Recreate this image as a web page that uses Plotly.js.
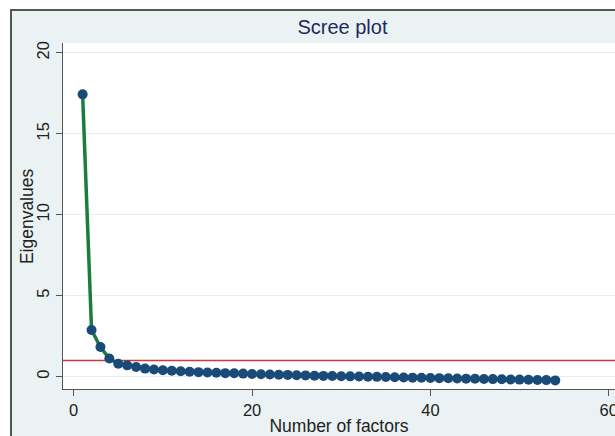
<!DOCTYPE html>
<html>
<head>
<meta charset="utf-8">
<script src="https://cdn.plot.ly/plotly-3.0.1.min.js"></script>
<style>
html,body{margin:0;padding:0;background:#ffffff;width:615px;height:436px;overflow:hidden;}
#frame{position:absolute;left:10px;top:9px;width:605px;height:427px;border-left:2px solid #555;border-top:2px solid #555;background:#eaf2f3;}
#chart{position:absolute;left:0;top:0;width:603px;height:425px;}
</style>
</head>
<body>
<div id="frame"><div id="chart"></div></div>
<script>
const factors = [];
for (let i = 1; i <= 54; i++) factors.push(i);
const eigenvalues = [17.43, 2.88, 1.83, 1.12, 0.80, 0.70, 0.60, 0.50, 0.44, 0.40,
  0.37, 0.34, 0.31, 0.28, 0.26, 0.24, 0.22, 0.21, 0.19, 0.17,
  0.15, 0.14, 0.12, 0.11, 0.09, 0.08, 0.06, 0.05, 0.04, 0.03,
  0.02, 0.01, 0.00, -0.01, -0.02, -0.03, -0.05, -0.06, -0.07, -0.08,
  -0.09, -0.10, -0.11, -0.12, -0.13, -0.14, -0.15, -0.16, -0.17, -0.18,
  -0.19, -0.20, -0.21, -0.23];
const cutoff = 1;
const xTicks = [0, 20, 40, 60];
const yTicks = [0, 5, 10, 15, 20];

const font = "Liberation Sans, Arial, sans-serif";

const traces = [{
  x: factors, y: eigenvalues, type: 'scatter', mode: 'lines+markers',
  line: {color: '#1a7d3c', width: 3.5},
  marker: {color: '#1a4a78', size: 10},
  hoverinfo: 'skip', cliponaxis: false
}];

const layout = {
  width: 603, height: 425,
  paper_bgcolor: '#eaf2f3', plot_bgcolor: '#ffffff',
  margin: {l: 51, r: 0, t: 32, b: 47},
  showlegend: false,
  font: {family: font, color: '#222222'},
  title: {text: 'Scree plot', font: {family: font, size: 20, color: '#1e2a5a'},
    x: 0.548, xref: 'container', xanchor: 'center', y: 0.963, yref: 'container', yanchor: 'middle'},
  xaxis: {
    range: [-1.2, 60.7], tickvals: xTicks, ticktext: xTicks.map(String),
    showgrid: false, zeroline: false, showline: true, linecolor: '#555', linewidth: 1,
    ticks: 'outside', ticklen: 6, tickcolor: '#555', tickfont: {size: 16.5, color: '#222'},
    ticklabeloverflow: 'allow',
    title: {text: 'Number of factors', font: {size: 17.5, color: '#222'}, standoff: 1}
  },
  yaxis: {
    range: [-0.76, 20.6], tickvals: yTicks, ticktext: yTicks.map(String), tickangle: -90,
    showgrid: true, gridcolor: '#e4eef1', gridwidth: 1, zeroline: false,
    showline: true, linecolor: '#555', linewidth: 1,
    ticks: 'outside', ticklen: 6, tickcolor: '#555', tickfont: {size: 16.5, color: '#222'}
  },
  annotations: [{text: 'Eigenvalues', xref: 'paper', yref: 'paper', x: -0.065, y: 0.5,
    xanchor: 'center', yanchor: 'middle', textangle: -90, showarrow: false,
    font: {family: font, size: 17.5, color: '#222'}}],
  shapes: [{type: 'line', xref: 'paper', yref: 'y', x0: 0, x1: 1, y0: cutoff, y1: cutoff,
    line: {color: '#d03a3a', width: 1.5}, layer: 'below'}]
};

Plotly.newPlot('chart', traces, layout, {displayModeBar: false, staticPlot: true});
</script>
</body>
</html>
